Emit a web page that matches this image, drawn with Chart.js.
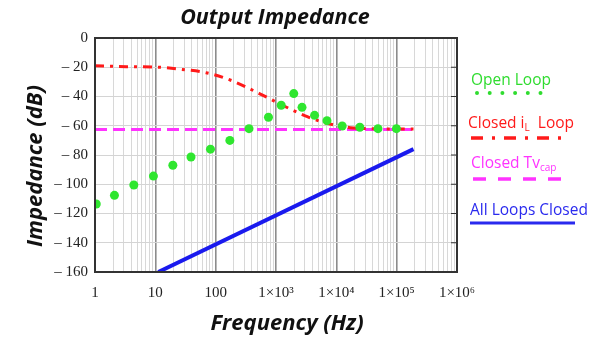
<!DOCTYPE html>
<html lang="en">
<head>
<meta charset="UTF-8">
<title>Output Impedance</title>
<script src="https://cdn.jsdelivr.net/npm/chart.js"></script>
<style>
  body { margin: 0; background: #fff; }
  #wrap { position: relative; width: 612px; height: 337px; font-family: "Open Sans", Lato, sans-serif; }
  .lbl { position: absolute; white-space: nowrap; }
  .ttl { font-weight: bold; font-style: italic; color: #111; }
  .leg { font-size: 15.5px; line-height: 18px; }
  .leg sub { font-size: 10px; vertical-align: -3px; }
  svg { position: absolute; left: 0; top: 0; }
</style>
</head>
<body>
<div id="wrap">
  <canvas id="impChart" width="612" height="337"></canvas>
  <div class="lbl ttl" style="left:170px; top:2px; width:210px; text-align:center; font-size:21.5px; line-height:28px;">Output Impedance</div>
  <div class="lbl ttl" style="left:192px; top:307px; width:190px; text-align:center; font-size:22px; line-height:28px;">Frequency (Hz)</div>
  <div class="lbl ttl" style="left:-72px; top:152px; width:210px; text-align:center; font-size:22px; line-height:28px; transform:rotate(-90deg);">Impedance (dB)</div>

  <div class="lbl leg" style="left:471px; top:70px; color:#2fdc2f;">Open Loop</div>
  <div class="lbl leg" style="left:468px; top:113px; color:#ff1a1a;">Closed i<sub>L</sub>&nbsp; Loop</div>
  <div class="lbl leg" style="left:471px; top:153px; color:#ff33ff;">Closed Tv<sub>cap</sub></div>
  <div class="lbl leg" style="left:470px; top:200px; color:#2a2aee;">All Loops Closed</div>
  <svg width="612" height="337">
    <line x1="477" y1="93" x2="545" y2="93" stroke="#2fdc2f" stroke-width="4" stroke-linecap="round" stroke-dasharray="0,12.7"/>
    <line x1="471" y1="138" x2="566" y2="138" stroke="#ff1a1a" stroke-width="3.5" stroke-dasharray="12,9,3,9"/>
    <line x1="473" y1="179" x2="566" y2="179" stroke="#ff33ff" stroke-width="3.5" stroke-dasharray="13,12"/>
    <line x1="470" y1="223" x2="575" y2="223" stroke="#2a2aee" stroke-width="3"/>
  </svg>
</div>
<script>
  // values
  const xTickLabels = ['1', '10', '100', '1×10³', '1×10⁴', '1×10⁵', '1×10⁶'];

  const openFreq = [1.05, 2.1, 4.4, 9.3, 19.5, 39, 82, 172, 357, 750, 1220, 1970, 2700, 4360, 7000, 12500, 24500, 49000, 99000];
  const openVals = [-113.5, -107.6, -100.5, -94.4, -87, -81.4, -76, -70, -62, -54.2, -46, -38, -47.4, -52.9, -56.5, -60.2, -61, -62, -62];

  const iLFreq = [1, 3.3, 9.3, 26, 69, 186, 520, 1440, 3300, 7000, 17000, 40000, 190000];
  const iLVals = [-19, -19.6, -19.8, -21.4, -23.7, -29.2, -37.8, -47, -53.8, -58.3, -61.3, -62, -62.3];

  const tvFreq = [1, 180000];
  const tvVals = [-62.5, -62.5];

  const allFreq = [11.2, 190000];
  const allVals = [-160, -76];

  const toXY = (xs, ys) => xs.map((x, i) => ({ x: x, y: ys[i] }));

  // frame + little ticks on the right border
  const framePlugin = {
    id: 'frame',
    afterDraw(chart) {
      const { ctx, chartArea: a, scales } = chart;
      ctx.save();
      ctx.strokeStyle = '#333';
      ctx.lineWidth = 1;
      scales.y.ticks.forEach(t => {
        const y = scales.y.getPixelForValue(t.value);
        ctx.beginPath();
        ctx.moveTo(a.right - 6, y);
        ctx.lineTo(a.right, y);
        ctx.stroke();
      });
      ctx.lineWidth = 2;
      ctx.strokeRect(a.left, a.top, a.right - a.left, a.bottom - a.top);
      ctx.restore();
    }
  };

  new Chart(document.getElementById('impChart'), {
    type: 'line',
    data: {
      datasets: [
        {
          label: 'Open Loop',
          data: toXY(openFreq, openVals),
          showLine: false,
          pointRadius: 4.5,
          pointBackgroundColor: '#2fe62f',
          pointBorderWidth: 0,
          order: 0
        },
        {
          label: 'Closed iL Loop',
          data: toXY(iLFreq, iLVals),
          borderColor: '#ff1a1a',
          borderWidth: 3,
          borderDash: [9, 6, 3, 6],
          cubicInterpolationMode: 'monotone',
          pointRadius: 0,
          order: 1
        },
        {
          label: 'Closed Tvcap',
          data: toXY(tvFreq, tvVals),
          borderColor: '#ff33ff',
          borderWidth: 3,
          borderDash: [12, 6],
          pointRadius: 0,
          order: 2
        },
        {
          label: 'All Loops Closed',
          data: toXY(allFreq, allVals),
          borderColor: '#1a1aee',
          borderWidth: 4,
          pointRadius: 0,
          order: 3
        }
      ]
    },
    options: {
      responsive: false,
      animation: false,
      devicePixelRatio: 1,
      layout: { padding: { top: 38, right: 155, left: 0, bottom: 0 } },
      plugins: { legend: { display: false }, title: { display: false }, tooltip: { enabled: false } },
      scales: {
        x: {
          type: 'logarithmic',
          min: 1,
          max: 1e6,
          afterBuildTicks(scale) {
            const ticks = [];
            for (let e = 0; e < 6; e++) {
              for (let m = 1; m < 10; m++) ticks.push({ value: m * Math.pow(10, e), major: m === 1 });
            }
            ticks.push({ value: 1e6, major: true });
            scale.ticks = ticks;
          },
          afterFit(scale) { scale.height = 65; },
          ticks: {
            autoSkip: false,
            maxRotation: 0,
            padding: 12,
            color: '#222',
            font: { family: 'Liberation Serif', size: 15 },
            callback(v) {
              const e = Math.log10(v);
              return Math.abs(e - Math.round(e)) < 1e-9 ? xTickLabels[Math.round(e)] : '';
            }
          },
          grid: {
            drawTicks: false,
            color: c => (c.tick && c.tick.major) ? '#8c8c8c' : '#d8d8d8',
            lineWidth: c => (c.tick && c.tick.major) ? 1.6 : 1
          },
          border: { display: false }
        },
        y: {
          min: -160,
          max: 0,
          afterFit(scale) { scale.width = 95; },
          ticks: {
            stepSize: 20,
            padding: 7,
            color: '#222',
            font: { family: 'Liberation Serif', size: 15 },
            callback: v => v === 0 ? '0' : '\u2013 ' + Math.abs(v)
          },
          grid: { drawTicks: false, color: '#d4d4d4', lineWidth: 1 },
          border: { display: false }
        }
      }
    },
    plugins: [framePlugin]
  });
</script>
</body>
</html>
